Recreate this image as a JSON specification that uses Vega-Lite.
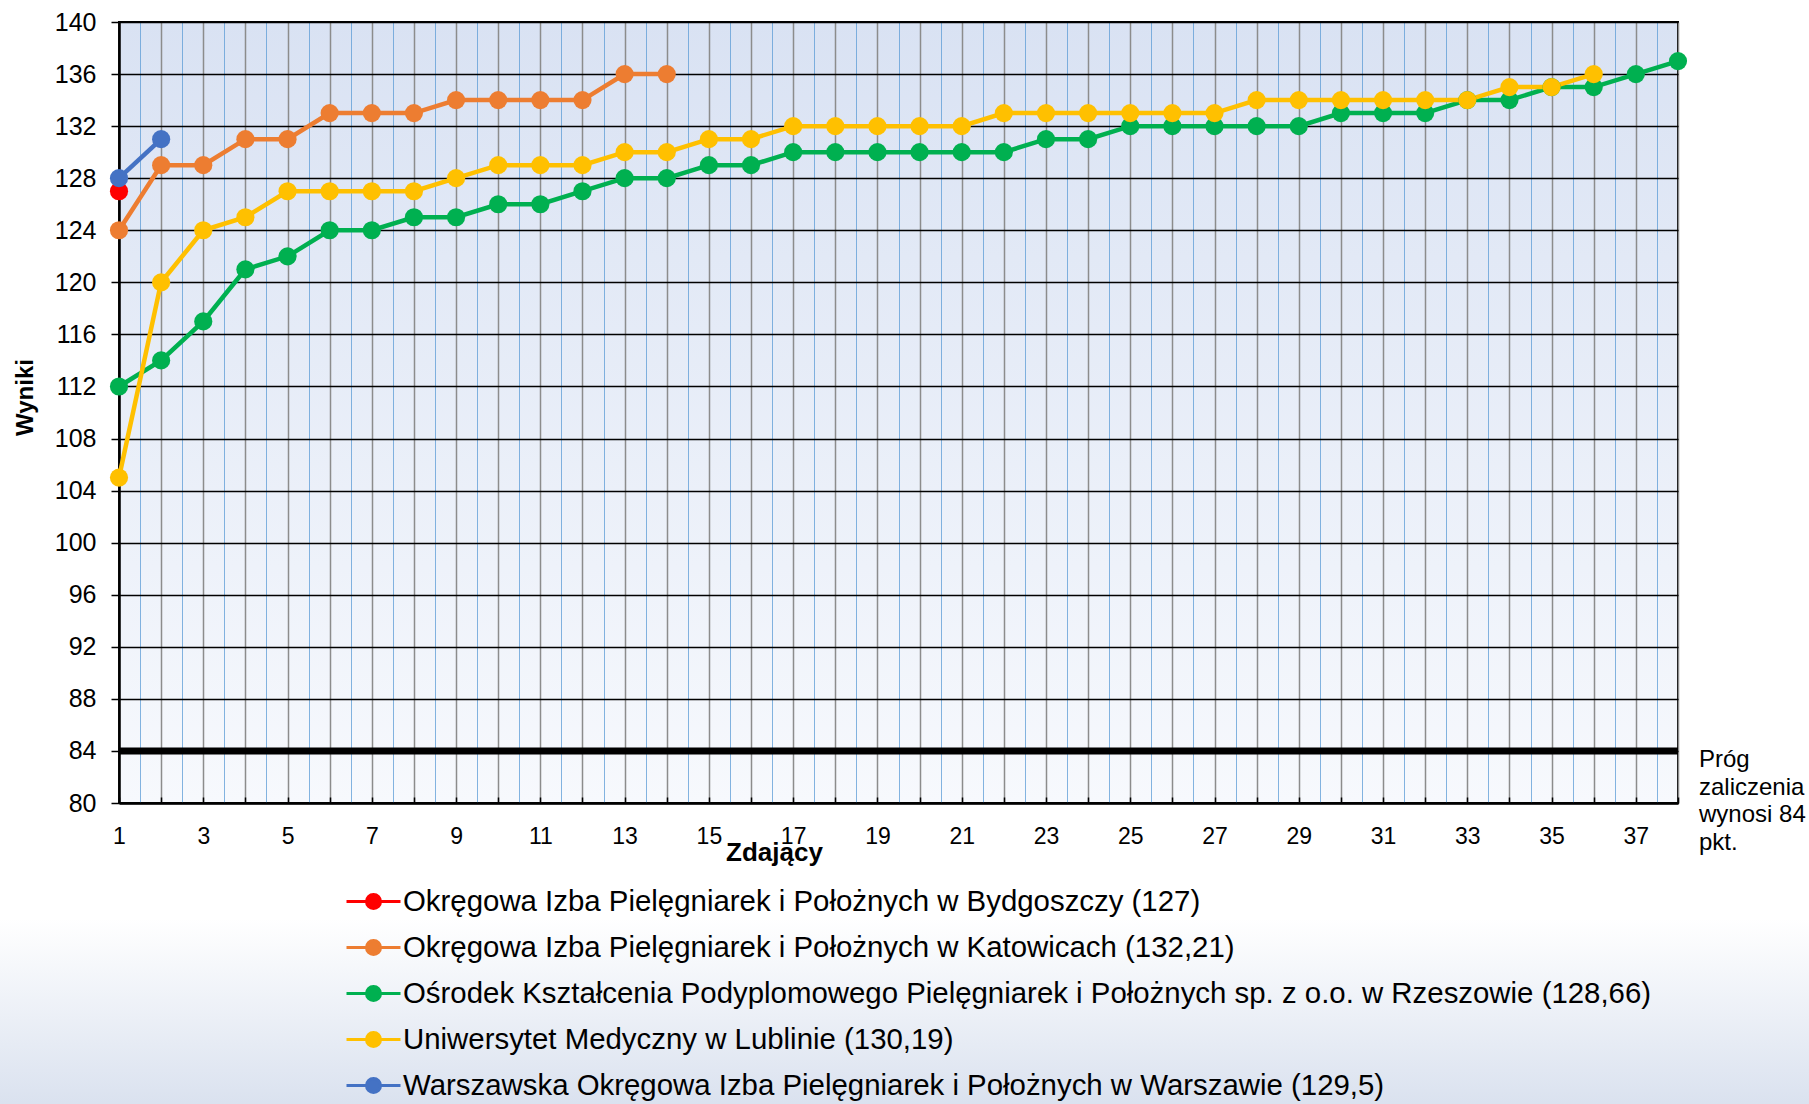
{
  "$schema": "https://vega.github.io/schema/vega-lite/v6.json",
  "width": 1559,
  "height": 781,
  "autosize": {"type": "none"},
  "padding": {"left": 119, "top": 22, "right": 131, "bottom": 301},
  "background": "#ffffff",
  "config": {
    "font": "Liberation Sans",
    "view": {
      "fill": {"gradient": "linear", "x1": 0, "y1": 0, "x2": 0, "y2": 1,
        "stops": [{"offset": 0, "color": "#d9e2f3"}, {"offset": 1, "color": "#f7f9fd"}]},
      "stroke": "#000000",
      "strokeWidth": 2
    },
    "axisY": {
      "grid": true, "gridColor": "#000000", "gridWidth": 1.5,
      "domainColor": "#000000", "domainWidth": 2.5,
      "tickColor": "#000000", "tickSize": 8, "tickWidth": 1.5,
      "labelFont": "Liberation Sans", "labelFontSize": 25, "labelColor": "#000000", "labelPadding": 15,
      "titleFont": "Liberation Sans", "titleFontSize": 24, "titleFontWeight": "bold", "titleColor": "#000000",
      "titleX": -94, "titleY": 375, "titleAlign": "center", "titleBaseline": "middle", "titleAngle": 270
    },
    "legend": {
      "orient": "none", "legendX": 226, "legendY": 851, "zindex": 1,
      "labelFont": "Liberation Sans", "labelFontSize": 29.4, "labelColor": "#000000",
      "labelLimit": 2000, "rowPadding": 3, "labelOffset": 1,
      "symbolType": "M-1,0L-0.26,0M0.26,0L1,0M-0.26,0A0.26,0.26,0,1,1,0.26,0A0.26,0.26,0,1,1,-0.26,0Z",
      "symbolSize": 2916, "symbolStrokeWidth": 3, "title": null
    }
  },
  "datasets": {
    "wyniki": [
      {"s": "Okręgowa Izba Pielęgniarek i Położnych w Bydgoszczy (127)", "x": 1, "y": 127},
      {"s": "Okręgowa Izba Pielęgniarek i Położnych w Katowicach (132,21)", "x": 1, "y": 124},
      {"s": "Okręgowa Izba Pielęgniarek i Położnych w Katowicach (132,21)", "x": 2, "y": 129},
      {"s": "Okręgowa Izba Pielęgniarek i Położnych w Katowicach (132,21)", "x": 3, "y": 129},
      {"s": "Okręgowa Izba Pielęgniarek i Położnych w Katowicach (132,21)", "x": 4, "y": 131},
      {"s": "Okręgowa Izba Pielęgniarek i Położnych w Katowicach (132,21)", "x": 5, "y": 131},
      {"s": "Okręgowa Izba Pielęgniarek i Położnych w Katowicach (132,21)", "x": 6, "y": 133},
      {"s": "Okręgowa Izba Pielęgniarek i Położnych w Katowicach (132,21)", "x": 7, "y": 133},
      {"s": "Okręgowa Izba Pielęgniarek i Położnych w Katowicach (132,21)", "x": 8, "y": 133},
      {"s": "Okręgowa Izba Pielęgniarek i Położnych w Katowicach (132,21)", "x": 9, "y": 134},
      {"s": "Okręgowa Izba Pielęgniarek i Położnych w Katowicach (132,21)", "x": 10, "y": 134},
      {"s": "Okręgowa Izba Pielęgniarek i Położnych w Katowicach (132,21)", "x": 11, "y": 134},
      {"s": "Okręgowa Izba Pielęgniarek i Położnych w Katowicach (132,21)", "x": 12, "y": 134},
      {"s": "Okręgowa Izba Pielęgniarek i Położnych w Katowicach (132,21)", "x": 13, "y": 136},
      {"s": "Okręgowa Izba Pielęgniarek i Położnych w Katowicach (132,21)", "x": 14, "y": 136},
      {"s": "Ośrodek Kształcenia Podyplomowego Pielęgniarek i Położnych sp. z o.o. w Rzeszowie (128,66)", "x": 1, "y": 112},
      {"s": "Ośrodek Kształcenia Podyplomowego Pielęgniarek i Położnych sp. z o.o. w Rzeszowie (128,66)", "x": 2, "y": 114},
      {"s": "Ośrodek Kształcenia Podyplomowego Pielęgniarek i Położnych sp. z o.o. w Rzeszowie (128,66)", "x": 3, "y": 117},
      {"s": "Ośrodek Kształcenia Podyplomowego Pielęgniarek i Położnych sp. z o.o. w Rzeszowie (128,66)", "x": 4, "y": 121},
      {"s": "Ośrodek Kształcenia Podyplomowego Pielęgniarek i Położnych sp. z o.o. w Rzeszowie (128,66)", "x": 5, "y": 122},
      {"s": "Ośrodek Kształcenia Podyplomowego Pielęgniarek i Położnych sp. z o.o. w Rzeszowie (128,66)", "x": 6, "y": 124},
      {"s": "Ośrodek Kształcenia Podyplomowego Pielęgniarek i Położnych sp. z o.o. w Rzeszowie (128,66)", "x": 7, "y": 124},
      {"s": "Ośrodek Kształcenia Podyplomowego Pielęgniarek i Położnych sp. z o.o. w Rzeszowie (128,66)", "x": 8, "y": 125},
      {"s": "Ośrodek Kształcenia Podyplomowego Pielęgniarek i Położnych sp. z o.o. w Rzeszowie (128,66)", "x": 9, "y": 125},
      {"s": "Ośrodek Kształcenia Podyplomowego Pielęgniarek i Położnych sp. z o.o. w Rzeszowie (128,66)", "x": 10, "y": 126},
      {"s": "Ośrodek Kształcenia Podyplomowego Pielęgniarek i Położnych sp. z o.o. w Rzeszowie (128,66)", "x": 11, "y": 126},
      {"s": "Ośrodek Kształcenia Podyplomowego Pielęgniarek i Położnych sp. z o.o. w Rzeszowie (128,66)", "x": 12, "y": 127},
      {"s": "Ośrodek Kształcenia Podyplomowego Pielęgniarek i Położnych sp. z o.o. w Rzeszowie (128,66)", "x": 13, "y": 128},
      {"s": "Ośrodek Kształcenia Podyplomowego Pielęgniarek i Położnych sp. z o.o. w Rzeszowie (128,66)", "x": 14, "y": 128},
      {"s": "Ośrodek Kształcenia Podyplomowego Pielęgniarek i Położnych sp. z o.o. w Rzeszowie (128,66)", "x": 15, "y": 129},
      {"s": "Ośrodek Kształcenia Podyplomowego Pielęgniarek i Położnych sp. z o.o. w Rzeszowie (128,66)", "x": 16, "y": 129},
      {"s": "Ośrodek Kształcenia Podyplomowego Pielęgniarek i Położnych sp. z o.o. w Rzeszowie (128,66)", "x": 17, "y": 130},
      {"s": "Ośrodek Kształcenia Podyplomowego Pielęgniarek i Położnych sp. z o.o. w Rzeszowie (128,66)", "x": 18, "y": 130},
      {"s": "Ośrodek Kształcenia Podyplomowego Pielęgniarek i Położnych sp. z o.o. w Rzeszowie (128,66)", "x": 19, "y": 130},
      {"s": "Ośrodek Kształcenia Podyplomowego Pielęgniarek i Położnych sp. z o.o. w Rzeszowie (128,66)", "x": 20, "y": 130},
      {"s": "Ośrodek Kształcenia Podyplomowego Pielęgniarek i Położnych sp. z o.o. w Rzeszowie (128,66)", "x": 21, "y": 130},
      {"s": "Ośrodek Kształcenia Podyplomowego Pielęgniarek i Położnych sp. z o.o. w Rzeszowie (128,66)", "x": 22, "y": 130},
      {"s": "Ośrodek Kształcenia Podyplomowego Pielęgniarek i Położnych sp. z o.o. w Rzeszowie (128,66)", "x": 23, "y": 131},
      {"s": "Ośrodek Kształcenia Podyplomowego Pielęgniarek i Położnych sp. z o.o. w Rzeszowie (128,66)", "x": 24, "y": 131},
      {"s": "Ośrodek Kształcenia Podyplomowego Pielęgniarek i Położnych sp. z o.o. w Rzeszowie (128,66)", "x": 25, "y": 132},
      {"s": "Ośrodek Kształcenia Podyplomowego Pielęgniarek i Położnych sp. z o.o. w Rzeszowie (128,66)", "x": 26, "y": 132},
      {"s": "Ośrodek Kształcenia Podyplomowego Pielęgniarek i Położnych sp. z o.o. w Rzeszowie (128,66)", "x": 27, "y": 132},
      {"s": "Ośrodek Kształcenia Podyplomowego Pielęgniarek i Położnych sp. z o.o. w Rzeszowie (128,66)", "x": 28, "y": 132},
      {"s": "Ośrodek Kształcenia Podyplomowego Pielęgniarek i Położnych sp. z o.o. w Rzeszowie (128,66)", "x": 29, "y": 132},
      {"s": "Ośrodek Kształcenia Podyplomowego Pielęgniarek i Położnych sp. z o.o. w Rzeszowie (128,66)", "x": 30, "y": 133},
      {"s": "Ośrodek Kształcenia Podyplomowego Pielęgniarek i Położnych sp. z o.o. w Rzeszowie (128,66)", "x": 31, "y": 133},
      {"s": "Ośrodek Kształcenia Podyplomowego Pielęgniarek i Położnych sp. z o.o. w Rzeszowie (128,66)", "x": 32, "y": 133},
      {"s": "Ośrodek Kształcenia Podyplomowego Pielęgniarek i Położnych sp. z o.o. w Rzeszowie (128,66)", "x": 33, "y": 134},
      {"s": "Ośrodek Kształcenia Podyplomowego Pielęgniarek i Położnych sp. z o.o. w Rzeszowie (128,66)", "x": 34, "y": 134},
      {"s": "Ośrodek Kształcenia Podyplomowego Pielęgniarek i Położnych sp. z o.o. w Rzeszowie (128,66)", "x": 35, "y": 135},
      {"s": "Ośrodek Kształcenia Podyplomowego Pielęgniarek i Położnych sp. z o.o. w Rzeszowie (128,66)", "x": 36, "y": 135},
      {"s": "Ośrodek Kształcenia Podyplomowego Pielęgniarek i Położnych sp. z o.o. w Rzeszowie (128,66)", "x": 37, "y": 136},
      {"s": "Ośrodek Kształcenia Podyplomowego Pielęgniarek i Położnych sp. z o.o. w Rzeszowie (128,66)", "x": 38, "y": 137},
      {"s": "Uniwersytet Medyczny w Lublinie (130,19)", "x": 1, "y": 105},
      {"s": "Uniwersytet Medyczny w Lublinie (130,19)", "x": 2, "y": 120},
      {"s": "Uniwersytet Medyczny w Lublinie (130,19)", "x": 3, "y": 124},
      {"s": "Uniwersytet Medyczny w Lublinie (130,19)", "x": 4, "y": 125},
      {"s": "Uniwersytet Medyczny w Lublinie (130,19)", "x": 5, "y": 127},
      {"s": "Uniwersytet Medyczny w Lublinie (130,19)", "x": 6, "y": 127},
      {"s": "Uniwersytet Medyczny w Lublinie (130,19)", "x": 7, "y": 127},
      {"s": "Uniwersytet Medyczny w Lublinie (130,19)", "x": 8, "y": 127},
      {"s": "Uniwersytet Medyczny w Lublinie (130,19)", "x": 9, "y": 128},
      {"s": "Uniwersytet Medyczny w Lublinie (130,19)", "x": 10, "y": 129},
      {"s": "Uniwersytet Medyczny w Lublinie (130,19)", "x": 11, "y": 129},
      {"s": "Uniwersytet Medyczny w Lublinie (130,19)", "x": 12, "y": 129},
      {"s": "Uniwersytet Medyczny w Lublinie (130,19)", "x": 13, "y": 130},
      {"s": "Uniwersytet Medyczny w Lublinie (130,19)", "x": 14, "y": 130},
      {"s": "Uniwersytet Medyczny w Lublinie (130,19)", "x": 15, "y": 131},
      {"s": "Uniwersytet Medyczny w Lublinie (130,19)", "x": 16, "y": 131},
      {"s": "Uniwersytet Medyczny w Lublinie (130,19)", "x": 17, "y": 132},
      {"s": "Uniwersytet Medyczny w Lublinie (130,19)", "x": 18, "y": 132},
      {"s": "Uniwersytet Medyczny w Lublinie (130,19)", "x": 19, "y": 132},
      {"s": "Uniwersytet Medyczny w Lublinie (130,19)", "x": 20, "y": 132},
      {"s": "Uniwersytet Medyczny w Lublinie (130,19)", "x": 21, "y": 132},
      {"s": "Uniwersytet Medyczny w Lublinie (130,19)", "x": 22, "y": 133},
      {"s": "Uniwersytet Medyczny w Lublinie (130,19)", "x": 23, "y": 133},
      {"s": "Uniwersytet Medyczny w Lublinie (130,19)", "x": 24, "y": 133},
      {"s": "Uniwersytet Medyczny w Lublinie (130,19)", "x": 25, "y": 133},
      {"s": "Uniwersytet Medyczny w Lublinie (130,19)", "x": 26, "y": 133},
      {"s": "Uniwersytet Medyczny w Lublinie (130,19)", "x": 27, "y": 133},
      {"s": "Uniwersytet Medyczny w Lublinie (130,19)", "x": 28, "y": 134},
      {"s": "Uniwersytet Medyczny w Lublinie (130,19)", "x": 29, "y": 134},
      {"s": "Uniwersytet Medyczny w Lublinie (130,19)", "x": 30, "y": 134},
      {"s": "Uniwersytet Medyczny w Lublinie (130,19)", "x": 31, "y": 134},
      {"s": "Uniwersytet Medyczny w Lublinie (130,19)", "x": 32, "y": 134},
      {"s": "Uniwersytet Medyczny w Lublinie (130,19)", "x": 33, "y": 134},
      {"s": "Uniwersytet Medyczny w Lublinie (130,19)", "x": 34, "y": 135},
      {"s": "Uniwersytet Medyczny w Lublinie (130,19)", "x": 35, "y": 135},
      {"s": "Uniwersytet Medyczny w Lublinie (130,19)", "x": 36, "y": 136},
      {"s": "Warszawska Okręgowa Izba Pielęgniarek i Położnych w Warszawie (129,5)", "x": 1, "y": 128},
      {"s": "Warszawska Okręgowa Izba Pielęgniarek i Położnych w Warszawie (129,5)", "x": 2, "y": 131}
    ],
    "prog": [
      {"x": 38, "y": 84, "label": ["Próg", "zaliczenia", "wynosi 84", "pkt."]}
    ]
  },
  "resolve": {"axis": {"x": "independent"}},
  "layer": [
    {
      "data": {"name": "prog"},
      "mark": {"type": "rect",
        "fill": {"gradient": "linear", "x1": 0, "y1": 0, "x2": 0, "y2": 1,
          "stops": [{"offset": 0, "color": "#ffffff"}, {"offset": 0.2, "color": "#ffffff"}, {"offset": 1, "color": "#d8e0ee"}]}},
      "encoding": {
        "x": {"datum": -2, "type": "quantitative", "axis": null},
        "x2": {"datum": 42},
        "y": {"datum": 74.9, "type": "quantitative",
          "axis": {"title": "Wyniki", "values": [80, 84, 88, 92, 96, 100, 104, 108, 112, 116, 120, 124, 128, 132, 136, 140]}},
        "y2": {"datum": 56}
      }
    },
    {
      "data": {"name": "prog"},
      "mark": {"type": "rule", "color": "#000000", "strokeWidth": 7},
      "encoding": {
        "y": {"field": "y", "type": "quantitative", "scale": {"domain": [80, 140], "nice": false, "zero": false},
          "axis": {"title": "Wyniki", "values": [80, 84, 88, 92, 96, 100, 104, 108, 112, 116, 120, 124, 128, 132, 136, 140]}}
      }
    },
    {
      "data": {"name": "wyniki"},
      "mark": {"type": "line", "strokeWidth": 4.5},
      "encoding": {
        "x": {"field": "x", "type": "quantitative",
          "scale": {"domain": [1, 38], "nice": false, "zero": false},
          "axis": {"orient": "bottom", "title": "Zdający",
            "values": [1,2,3,4,5,6,7,8,9,10,11,12,13,14,15,16,17,18,19,20,21,22,23,24,25,26,27,28,29,30,31,32,33,34,35,36,37,38],
            "labelExpr": "datum.value % 2 == 1 ? datum.label : ''",
            "grid": true, "gridColor": "#8c8c8c", "gridWidth": 1.5,
            "domainColor": "#000000", "domainWidth": 2.5,
            "ticks": true, "tickSize": -6, "tickColor": "#000000", "tickWidth": 1.5,
            "labelFont": "Liberation Sans", "labelFontSize": 23, "labelColor": "#000000", "labelPadding": 28,
            "labelFlush": false, "labelOverlap": false,
            "titleFont": "Liberation Sans", "titleFontSize": 26, "titleFontWeight": "bold", "titleColor": "#000000",
            "titleX": 655, "titleY": 49, "titleAlign": "center", "titleBaseline": "middle"}},
        "y": {"field": "y", "type": "quantitative", "scale": {"domain": [80, 140], "nice": false, "zero": false},
          "axis": {"title": "Wyniki", "values": [80, 84, 88, 92, 96, 100, 104, 108, 112, 116, 120, 124, 128, 132, 136, 140]}},
        "color": {"field": "s", "type": "nominal",
          "scale": {
            "domain": [
              "Okręgowa Izba Pielęgniarek i Położnych w Bydgoszczy (127)",
              "Okręgowa Izba Pielęgniarek i Położnych w Katowicach (132,21)",
              "Ośrodek Kształcenia Podyplomowego Pielęgniarek i Położnych sp. z o.o. w Rzeszowie (128,66)",
              "Uniwersytet Medyczny w Lublinie (130,19)",
              "Warszawska Okręgowa Izba Pielęgniarek i Położnych w Warszawie (129,5)"
            ],
            "range": ["#ff0000", "#ed7d31", "#00b050", "#ffc000", "#4472c4"]
          }}
      }
    },
    {
      "data": {"name": "wyniki"},
      "mark": {"type": "point", "filled": true, "size": 330, "opacity": 1},
      "encoding": {
        "x": {"field": "x", "type": "quantitative",
          "axis": {"orient": "top", "title": null, "labels": false, "ticks": false, "domain": false,
            "values": [1.5,2.5,3.5,4.5,5.5,6.5,7.5,8.5,9.5,10.5,11.5,12.5,13.5,14.5,15.5,16.5,17.5,18.5,19.5,20.5,21.5,22.5,23.5,24.5,25.5,26.5,27.5,28.5,29.5,30.5,31.5,32.5,33.5,34.5,35.5,36.5,37.5],
            "grid": true, "gridColor": "#5b9bd5", "gridWidth": 1, "gridOpacity": 0.75}},
        "y": {"field": "y", "type": "quantitative",
          "axis": {"title": "Wyniki", "values": [80, 84, 88, 92, 96, 100, 104, 108, 112, 116, 120, 124, 128, 132, 136, 140]}},
        "color": {"field": "s", "type": "nominal"}
      }
    },
    {
      "data": {"name": "prog"},
      "mark": {"type": "text", "align": "left", "baseline": "top", "dx": 21, "dy": -3, "fontSize": 24, "lineHeight": 27.7, "color": "#000000", "font": "Liberation Sans"},
      "encoding": {
        "x": {"field": "x", "type": "quantitative", "axis": null},
        "y": {"field": "y", "type": "quantitative",
          "axis": {"title": "Wyniki", "values": [80, 84, 88, 92, 96, 100, 104, 108, 112, 116, 120, 124, 128, 132, 136, 140]}},
        "text": {"field": "label"}
      }
    }
  ]
}
